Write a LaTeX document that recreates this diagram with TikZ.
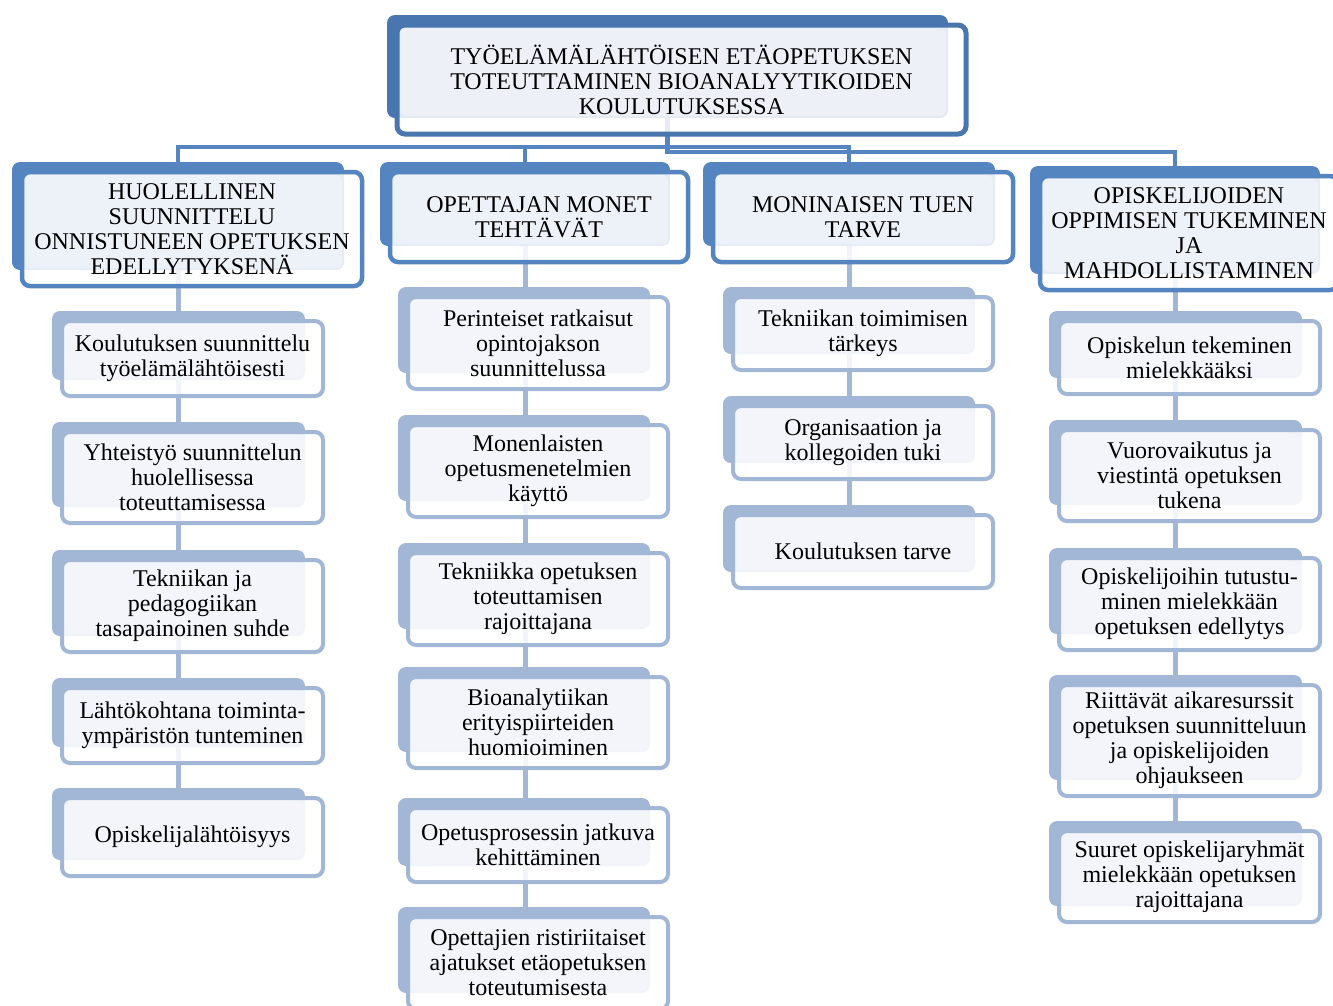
\documentclass[tikz,border=0pt]{standalone}
\usepackage{fontspec}
\setmainfont{Liberation Serif}
\pgfdeclarelayer{base}
\pgfdeclarelayer{bg}
\pgfsetlayers{base,bg,main}
\definecolor{rootc}{HTML}{4A76B0}
\definecolor{lvla}{HTML}{5485C0}
\definecolor{lvlb}{HTML}{A2B6D6}
\definecolor{rootl}{HTML}{EDF0F7}
\definecolor{lvlal}{HTML}{EDF1F8}
\definecolor{lvlbl}{HTML}{F3F5FA}
\tikzset{
  x=1pt, y=-1pt,
  Rback/.style={rectangle, rounded corners=8, fill=rootc, inner sep=0pt},
  Rfront/.style={rectangle, rounded corners=8, draw=rootc, line width=5pt, fill=white, fill opacity=0.85, inner sep=0pt},
  Rlight/.style={fill=rootl, rounded corners=6},
  Aback/.style={rectangle, rounded corners=8, fill=lvla, inner sep=0pt},
  Afront/.style={rectangle, rounded corners=8, draw=lvla, line width=4.5pt, fill=white, fill opacity=0.85, inner sep=0pt},
  Alight/.style={fill=lvlal, rounded corners=6},
  Bback/.style={rectangle, rounded corners=8, fill=lvlb, inner sep=0pt},
  Bfront/.style={rectangle, rounded corners=8, draw=lvlb, line width=4pt, fill=white, fill opacity=0.85, inner sep=0pt},
  Blight/.style={fill=lvlbl, rounded corners=6},
  txt/.style={align=center, inner sep=0pt, font=\fontsize{24}{25}\selectfont},
  Aline/.style={draw=lvla, line width=4.5pt},
  Bline/.style={draw=lvlb, line width=5pt},
}
% \tbox{name}{left}{top}{right}{bottom}{level}{text}
\newcommand\tbox[7]{%
  \node[#6back, minimum width={#4-#2-8}, minimum height={#5-#3-6}] (#1b) at ({(#2+#4-28)/2},{(#3+#5-26)/2}) {};
  \node[#6front, minimum width={#4-#2}, minimum height={#5-#3}] (#1) at ({(#2+#4)/2},{(#3+#5)/2}) {};
  \fill[#6light] ({#2+3},{#3+3}) rectangle ({#4-20},{#5-18});
  \node[txt] (#1t) at (#1.center) {#7};
}
\begin{document}
\begin{tikzpicture}
\useasboundingbox (0,0) rectangle (1333,1005);
\begin{pgfonlayer}{base}
  \fill[white] (0,0) rectangle (1333,1005);
\end{pgfonlayer}

% main theme
\tbox{root}{397}{25}{966}{134}{R}{TYÖELÄMÄLÄHTÖISEN ETÄOPETUKSEN\\TOTEUTTAMINEN BIOANALYYTIKOIDEN\\KOULUTUKSESSA}

% themes
\tbox{d1}{22}{172}{362}{286}{A}{HUOLELLINEN\\SUUNNITTELU\\ONNISTUNEEN OPETUKSEN\\EDELLYTYKSENÄ}
\tbox{d2}{390}{172}{688}{262}{A}{OPETTAJAN MONET\\TEHTÄVÄT}
\tbox{d3}{713}{172}{1013}{262}{A}{MONINAISEN TUEN\\TARVE}
\tbox{d4}{1040}{176}{1338}{290}{A}{OPISKELIJOIDEN\\OPPIMISEN TUKEMINEN\\JA\\MAHDOLLISTAMINEN}

% column 1
\tbox{e11}{62}{321}{323}{396}{B}{Koulutuksen suunnittelu\\työelämälähtöisesti}
\tbox{e12}{62}{432}{323}{523}{B}{Yhteistyö suunnittelun\\huolellisessa\\toteuttamisessa}
\tbox{e13}{62}{560}{323}{652}{B}{Tekniikan ja\\pedagogiikan\\tasapainoinen suhde}
\tbox{e14}{62}{688}{323}{763}{B}{Lähtökohtana toiminta-\\ympäristön tunteminen}
\tbox{e15}{62}{798}{323}{876}{B}{Opiskelijalähtöisyys}

% column 2
\tbox{e21}{408}{297}{668}{389}{B}{Perinteiset ratkaisut\\opintojakson\\suunnittelussa}
\tbox{e22}{408}{425}{668}{517}{B}{Monenlaisten\\opetusmenetelmien\\käyttö}
\tbox{e23}{408}{553}{668}{645}{B}{Tekniikka opetuksen\\toteuttamisen\\rajoittajana}
\tbox{e24}{408}{677}{668}{768}{B}{Bioanalytiikan\\erityispiirteiden\\huomioiminen}
\tbox{e25}{408}{808}{668}{882}{B}{Opetusprosessin jatkuva\\kehittäminen}
\tbox{e26}{408}{917}{668}{1009}{B}{Opettajien ristiriitaiset\\ajatukset etäopetuksen\\toteutumisesta}

% column 3
\tbox{e31}{733}{297}{993}{370}{B}{Tekniikan toimimisen\\tärkeys}
\tbox{e32}{733}{406}{993}{479}{B}{Organisaation ja\\kollegoiden tuki}
\tbox{e33}{733}{515}{993}{588}{B}{Koulutuksen tarve}

% column 4
\tbox{e41}{1059}{321}{1320}{394}{B}{Opiskelun tekeminen\\mielekkääksi}
\tbox{e42}{1059}{430}{1320}{521}{B}{Vuorovaikutus ja\\viestintä opetuksen\\tukena}
\tbox{e43}{1059}{558}{1320}{650}{B}{Opiskelijoihin tutustu-\\minen mielekkään\\opetuksen edellytys}
\tbox{e44}{1059}{685}{1320}{796}{B}{Riittävät aikaresurssit\\opetuksen suunnitteluun\\ja opiskelijoiden\\ohjaukseen}
\tbox{e45}{1059}{831}{1320}{922}{B}{Suuret opiskelijaryhmät\\mielekkään opetuksen\\rajoittajana}

% connectors, drawn behind the boxes
\begin{pgfonlayer}{bg}
  \draw[Aline] (rootb.south) -- (rootb.south |- 0,152) -| (d4b.north);
  \draw[Aline] (d1b.north) |- (d3b.north |- 0,147) -- (d3b.north);
  \draw[Aline] (d2b.north) -- (d2b.north |- 0,147);
  \draw[Bline] (d1b.south) -- (d1b.south |- e15b.north);
  \draw[Bline] (d2b.south) -- (d2b.south |- e26b.north);
  \draw[Bline] (d3b.south) -- (d3b.south |- e33b.north);
  \draw[Bline] (d4b.south) -- (d4b.south |- e45b.north);
\end{pgfonlayer}
\end{tikzpicture}
\end{document}
